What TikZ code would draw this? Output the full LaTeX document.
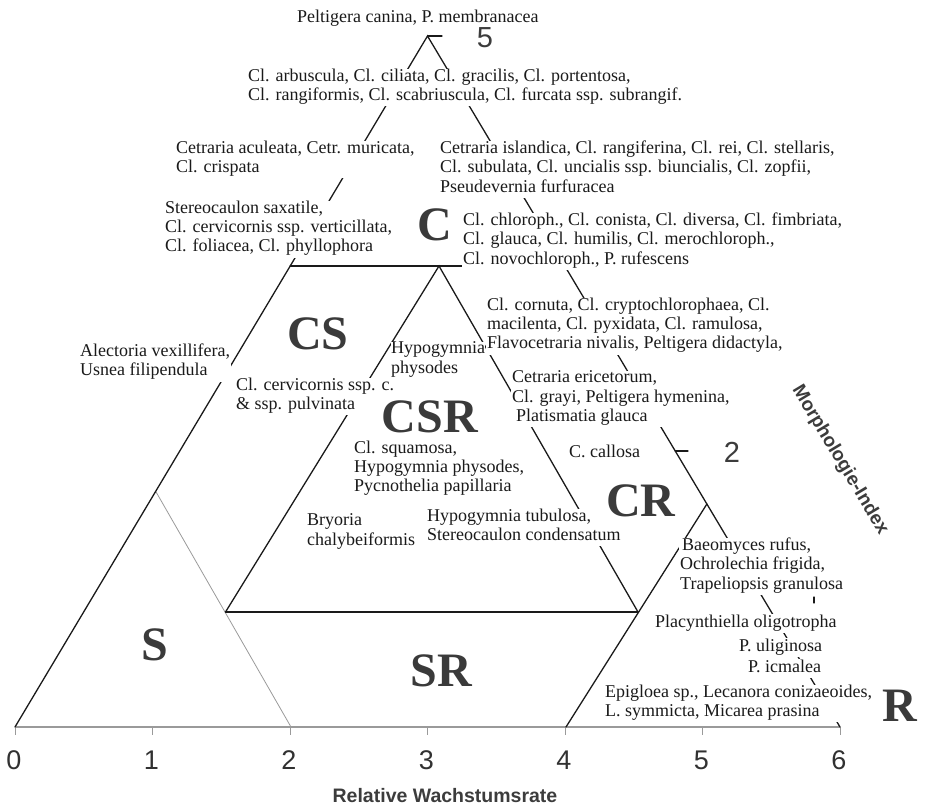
\documentclass[tikz,border=0pt]{standalone}
\usepackage{fontspec}
\setmainfont{Liberation Serif}
\newfontfamily\sansfam{Liberation Sans}
\newcommand\spectxt{\fontsize{18}{19.3}\selectfont}
\newcommand\bigtxt{\fontsize{48}{50}\selectfont\bfseries}
\newcommand\numtxt{\sansfam\fontsize{27}{30}\selectfont}
\newcommand\idxtxt{\sansfam\fontsize{29}{32}\selectfont}
\newcommand\axtxt{\sansfam\bfseries\fontsize{19.5}{22}\selectfont}
\newcommand\brk{\\\strut}
\definecolor{zone}{HTML}{3A3A3A}
\definecolor{axisgray}{HTML}{9A9A9A}
\definecolor{inkc}{HTML}{1A1A1A}
\begin{document}
\begin{tikzpicture}[x=1pt,y=-1pt,
  edge/.style={draw=inkc, line width=1.3pt, line cap=round},
  grayline/.style={draw=axisgray, line width=0.8pt},
  axisline/.style={draw=axisgray, line width=1.4pt},
  species/.style={anchor=north west, inner xsep=1pt, inner ysep=0pt, align=left,
    fill=white, font=\spectxt, text=inkc, execute at begin node=\strut},
  zonelabel/.style={font=\bigtxt, text=zone, inner sep=0pt},
  numlabel/.style={font=\numtxt, text=inkc!90, inner sep=0pt},
  idxlabel/.style={font=\idxtxt, text=inkc!85, inner sep=0pt}]
\useasboundingbox (0,0) rectangle (927,807);
% key points
\coordinate (A) at (427.5,36);
\coordinate (BL) at (15,727);
\coordinate (BR) at (840,727);
\coordinate (H1) at (290.2,266);
\coordinate (H2) at (463,266);
\coordinate (P) at (439,266);
\coordinate (Q1) at (225.5,612);
\coordinate (Q2) at (638,612);
\coordinate (RB) at (566,727);
\coordinate (RA) at (706.9,504);
\coordinate (SA) at (155.7,491.3);
\coordinate (SB) at (291,727);
\coordinate (T5) at (442,36);
\coordinate (T2a) at (675.3,451);
\coordinate (T2b) at (688,451);
\coordinate (M1) at (814,597);
\coordinate (M2) at (814,603);
% axis
\draw[axisline] (BL) -- (BR);
\foreach \k in {0,...,6} {
  \draw[grayline, line width=1pt] (15+137.5*\k,727) -- (15+137.5*\k,735);
  \node[numlabel] (n\k) at (14+137.5*\k,760) {\k};
}
\node[font=\axtxt, text=inkc!85, inner sep=0pt] (xlab) at (445,796) {Relative Wachstumsrate};
% S boundary
\draw[grayline] (SA) -- (SB);
% main lines
\draw[edge] (BL) -- (A) -- (BR);
\draw[edge] (A) -- (T5);
\draw[edge] (H1) -- (H2);
\draw[edge, line join=miter] (Q1) -- (P) -- (Q2);
\draw[edge, line width=1.5pt] (Q1) -- (Q2);
\draw[edge] (RB) -- (RA);
\draw[edge] (T2a) -- (T2b);
\draw[edge, line width=1.1pt] (M1) -- (M2);
% species lists
\node[species] (t1) at (296,8.7) {Peltigera canina, P. membranacea};
\node[species] (t2) at (247,68.7) {Cl. arbuscula, Cl. ciliata, Cl. gracilis, Cl. portentosa,\brk Cl. rangiformis, Cl. scabriuscula, Cl. furcata ssp. subrangif.};
\node[species] (t3) at (175,140.7) {Cetraria aculeata, Cetr. muricata,\brk Cl. crispata};
\node[species] (t4) at (439,140.7) {Cetraria islandica, Cl. rangiferina, Cl. rei, Cl. stellaris,\brk Cl. subulata, Cl. uncialis ssp. biuncialis, Cl. zopfii,\brk Pseudevernia furfuracea};
\node[species] (t5) at (164,200.7) {Stereocaulon saxatile,\brk Cl. cervicornis ssp. verticillata,\brk Cl. foliacea, Cl. phyllophora};
\node[species] (t6) at (462,212.7) {Cl. chloroph., Cl. conista, Cl. diversa, Cl. fimbriata,\brk Cl. glauca, Cl. humilis, Cl. merochloroph.,\brk Cl. novochloroph., P. rufescens};
\node[species] (t7) at (486,297.7) {Cl. cornuta, Cl. cryptochlorophaea, Cl.\brk macilenta, Cl. pyxidata, Cl. ramulosa,\brk Flavocetraria nivalis, Peltigera didactyla,};
\node[species] (t8) at (79,343.7) {Alectoria vexillifera,\brk Usnea filipendula};
\node[species, inner xsep=0pt] (t9) at (391,341.7) {Hypogymnia\brk physodes};
\node[species] (t10) at (235,377.7) {Cl. cervicornis ssp. c.\brk \& ssp. pulvinata};
\node[species] (t11) at (511,370.7) {Cetraria ericetorum,\brk Cl. grayi, Peltigera hymenina,\brk \hspace*{4pt}Platismatia glauca};
\node[species] (t12) at (353,440.7) {Cl. squamosa,\brk Hypogymnia physodes,\brk Pycnothelia papillaria};
\node[species] (t13) at (568,443.7) {C. callosa};
\node[species] (t14) at (306,513.7) {Bryoria\brk chalybeiformis};
\node[species] (t15) at (426,508.7) {Hypogymnia tubulosa,\brk Stereocaulon condensatum};
\node[species] (t16) at (679,537.7) {\hspace*{2pt}Baeomyces rufus,\brk Ochrolechia frigida,\brk Trapeliopsis granulosa};
\node[species] (t17) at (654,613.7) {Placynthiella oligotropha};
\node[species] (t18) at (738,637.7) {P. uliginosa};
\node[species] (t19) at (747,658.7) {P. icmalea};
\node[species] (t20) at (604,684.7) {Epigloea sp., Lecanora conizaeoides,\brk L. symmicta, Micarea prasina};
% zone letters
\node[zonelabel] (zC) at (435,225) {C};
\node[zonelabel] (zCS) at (318,334) {CS};
\node[zonelabel] (zCSR) at (430,417) {CSR};
\node[zonelabel] (zCR) at (641,501) {CR};
\node[zonelabel] (zS) at (155,645) {S};
\node[zonelabel] (zSR) at (441,671) {SR};
\node[zonelabel] (zR) at (900,706) {R};
% morphology index
\node[idxlabel] (i5) at (485,37.5) {5};
\node[idxlabel] (i2) at (732,452.5) {2};
\node[font=\sansfam\bfseries\fontsize{19}{22}\selectfont, text=inkc!85, rotate=-59, inner sep=0pt] (mi) at (840,460) {Morphologie-Index};
\end{tikzpicture}
\end{document}
